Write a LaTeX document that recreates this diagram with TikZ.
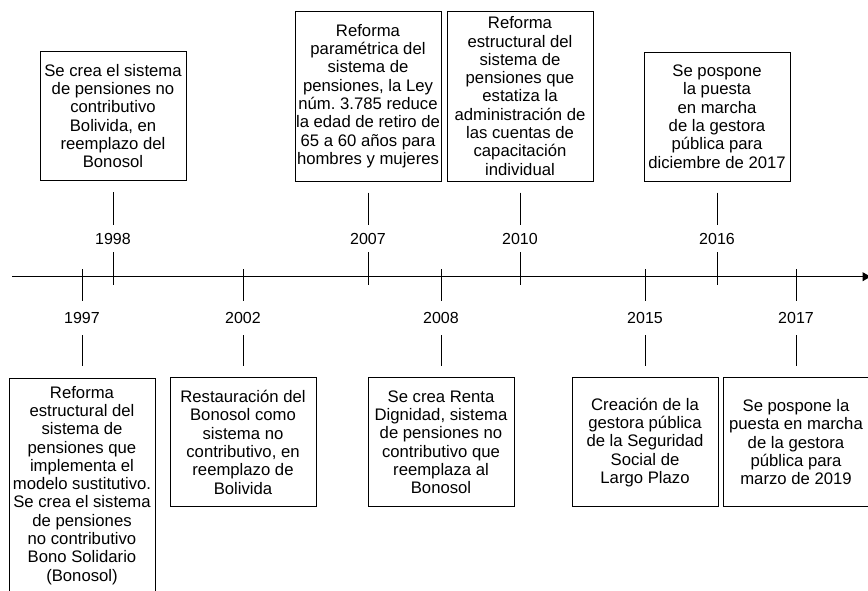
\documentclass[tikz,border=0pt]{standalone}
\usepackage{fontspec}
\setmainfont{Liberation Sans}
\usetikzlibrary{arrows.meta}
\frenchspacing
\begin{document}
\begin{tikzpicture}[x=1pt,y=-1pt,
  event/.style={draw=black, line width=1pt, minimum width=146pt, inner sep=0pt,
    align=center, font=\fontsize{16.7}{18.3}\selectfont},
  short/.style={event, minimum height=129pt},
  tall/.style={event, minimum height=170pt},
  taller/.style={event, minimum height=214pt},
  year/.style={inner sep=0pt, minimum width=40pt, font=\fontsize{16}{18}\selectfont},
  ytop/.style={year, minimum height=27pt},
  ybot/.style={year, minimum height=33.6pt},
  tick/.style={line width=1pt, draw=black},
]
\useasboundingbox (0,0) rectangle (868,590);

% time axis
\coordinate (axstart) at (12,276.7);
\coordinate (axend) at (870.5,276.7);
\draw[tick, -{Triangle[length=8pt,width=9pt]}] (axstart) -- (axend);

% events above the axis
\node[short] (b1998) at (113,116) {Se crea el sistema\\de pensiones no\\contributivo\\Bolivida, en\\reemplazo del\\Bonosol};
\node[tall] (b2007) at (368,96) {Reforma\\paramétrica del\\sistema de\\pensiones, la Ley\\núm. 3.785 reduce\\la edad de retiro de\\65 a 60 años para\\hombres y mujeres};
\node[tall] (b2010) at (520,96) {Reforma\\estructural del\\sistema de\\pensiones que\\estatiza la\\administración de\\las cuentas de\\capacitación\\individual};
\node[short] (b2016) at (717,116.5) {Se pospone\\la puesta\\en marcha\\de la gestora\\pública para\\diciembre de 2017};

% events below the axis
\node[taller] (b1997) at (82,485.3) {Reforma\\estructural del\\sistema de\\pensiones que\\implementa el\\modelo sustitutivo.\\Se crea el sistema\\de pensiones\\no contributivo\\Bono Solidario\\(Bonosol)};
\node[short] (b2002) at (243,442.3) {Restauración del\\Bonosol como\\sistema no\\contributivo, en\\reemplazo de\\Bolivida};
\node[short] (b2008) at (441,442.3) {Se crea Renta\\Dignidad, sistema\\de pensiones no\\contributivo que\\reemplaza al\\Bonosol};
\node[short] (b2015) at (645,442.3) {Creación de la\\gestora pública\\de la Seguridad\\Social de\\Largo Plazo};
\node[short] (b2017) at (796,442.3) {Se pospone la\\puesta en marcha\\de la gestora\\pública para\\marzo de 2019};

% year labels and their ticks
\foreach \yr/\px in {1998/113, 2007/368, 2010/520, 2016/717} {
  \node[ytop] (y\yr) at (\px,238.5) {\yr};
  \coordinate (k\yr) at (\px,284.5);
  \draw[tick, shorten <=11pt] (b\yr) -- (y\yr);
  \draw[tick] (y\yr) -- (k\yr);
}
\foreach \yr/\px in {1997/82, 2002/243, 2008/441, 2015/645, 2017/796} {
  \node[ybot] (y\yr) at (\px,318.3) {\yr};
  \coordinate (k\yr) at (\px,269);
  \draw[tick] (k\yr) -- (y\yr);
  \draw[tick, shorten >=11.6pt] (y\yr) -- (b\yr);
}
\end{tikzpicture}
\end{document}
